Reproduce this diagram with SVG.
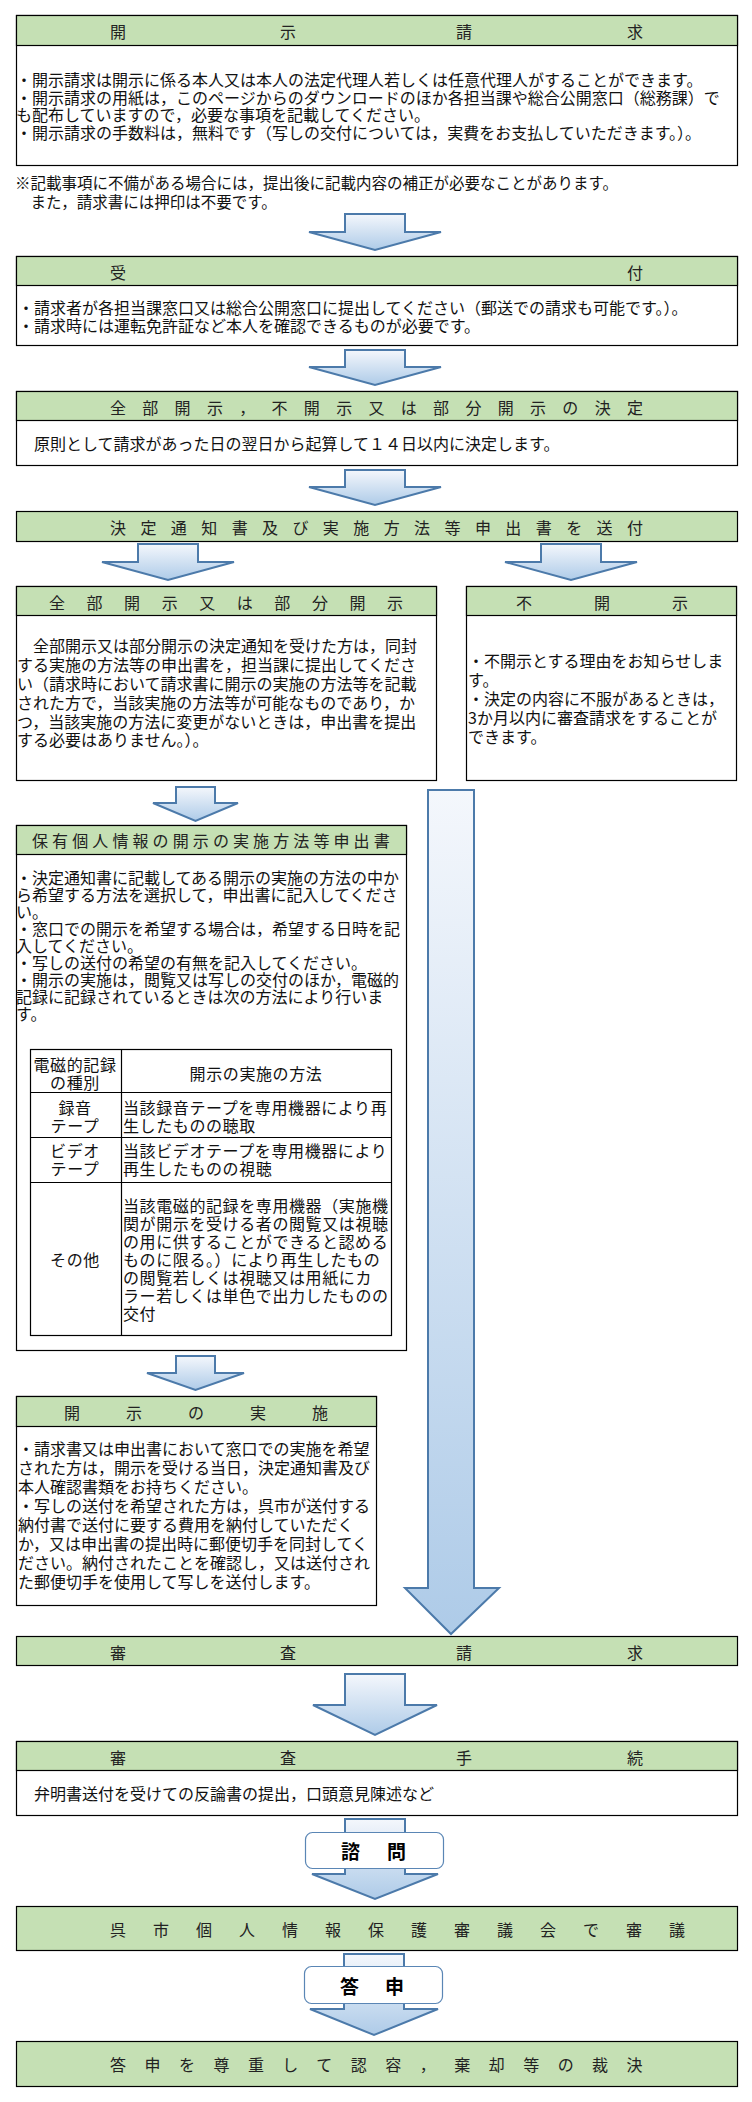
<svg xmlns="http://www.w3.org/2000/svg" width="752" height="2102" viewBox="0 0 752 2102">
<defs>
<linearGradient id="ag" x1="0" y1="0" x2="0" y2="1">
<stop offset="0" stop-color="#f4f7fc"/>
<stop offset="1" stop-color="#aecbe8"/>
</linearGradient>
<style>
text{font-family:"Noto Sans CJK JP","Noto Sans CJK SC",sans-serif;font-size:16px;fill:#111;dominant-baseline:central}
.box{fill:#fff;stroke:#000;stroke-width:1.2}
.hdr{fill:#c5e0b4;stroke:#000;stroke-width:1.2}
.ht{fill:#222}
.arr{fill:url(#ag);stroke:#4c7aaa;stroke-width:2;stroke-linejoin:miter}
.lbl{fill:#fff;stroke:#5a86b5;stroke-width:1.2}
.lt{font-size:19px;font-weight:bold;fill:#000}
.tb{fill:none;stroke:#000;stroke-width:1.2}
.tt{letter-spacing:0.6px}
.fn{font-size:15.5px}
</style>
</defs>

<g id="connectors">
<path class="arr" d="M345 214H405V232H441L375 250L309 232H345Z"/>
<path class="arr" d="M345 350H405V367H441L375 385L309 367H345Z"/>
<path class="arr" d="M345 470H405V487H441L375 505L309 487H345Z"/>
<path class="arr" d="M138 544H198V562H234L168 580L102 562H138Z"/>
<path class="arr" d="M541 544H601V562H637L571 580L505 562H541Z"/>
<path class="arr" d="M176 787H215V803H238L195.5 821L153 803H176Z"/>
<path class="arr" d="M428 790H474V1588H499L451 1634L405 1588H428Z"/>
<path class="arr" d="M176 1356H215V1373H244L195.5 1390L147 1373H176Z"/>
<path class="arr" d="M345 1674H405V1705H437L375 1735L313 1705H345Z"/>
<path class="arr" d="M345 1819H405V1874H438L375 1899L312 1874H345Z"/>
<path class="arr" d="M344 1954H404V2009H438L374 2035L310 2009H344Z"/>
</g>

<g id="n-kaiji-seikyu">
<rect class="box" x="16.5" y="15.5" width="721" height="150"/>
<rect class="hdr" x="16.5" y="15.5" width="721" height="30"/>
<text class="ht" x="110 280 456 627" y="31">開示請求</text>
<text x="16" y="79">・開示請求は開示に係る本人又は本人の法定代理人若しくは任意代理人がすることができます。</text>
<text x="16" y="97">・開示請求の用紙は，このページからのダウンロードのほか各担当課や総合公開窓口（総務課）で</text>
<text x="16" y="114">も配布していますので，必要な事項を記載してください。</text>
<text x="16" y="132">・開示請求の手数料は，無料です（写しの交付については，実費をお支払していただきます。）。</text>
</g>

<g id="n-note">
<text class="fn" x="15" y="182">※記載事項に不備がある場合には，提出後に記載内容の補正が必要なことがあります。</text>
<text class="fn" x="15" y="201">　また，請求書には押印は不要です。</text>
</g>

<g id="n-uketsuke">
<rect class="box" x="16.5" y="256.5" width="721" height="89"/>
<rect class="hdr" x="16.5" y="256.5" width="721" height="29"/>
<text class="ht" x="110 627" y="272">受付</text>
<text x="18" y="307">・請求者が各担当課窓口又は総合公開窓口に提出してください（郵送での請求も可能です。）。</text>
<text x="18" y="325">・請求時には運転免許証など本人を確認できるものが必要です。</text>
</g>

<g id="n-kettei">
<rect class="box" x="16.5" y="391.5" width="721" height="74"/>
<rect class="hdr" x="16.5" y="391.5" width="721" height="29"/>
<text class="ht" x="110" y="407" letter-spacing="16.31">全部開示，不開示又は部分開示の決定</text>
<text x="34" y="443">原則として請求があった日の翌日から起算して１４日以内に決定します。</text>
</g>

<g id="n-soufu">
<rect class="hdr" x="16.5" y="511.5" width="721" height="30"/>
<text class="ht" x="110" y="527" letter-spacing="14.41">決定通知書及び実施方法等申出書を送付</text>
</g>

<g id="n-zenbu">
<rect class="box" x="16.5" y="586.5" width="420" height="194"/>
<rect class="hdr" x="16.5" y="586.5" width="420" height="29"/>
<text class="ht" x="49" y="602" letter-spacing="21.56">全部開示又は部分開示</text>
<text x="17" y="645">　全部開示又は部分開示の決定通知を受けた方は，同封</text>
<text x="17" y="664">する実施の方法等の申出書を，担当課に提出してくださ</text>
<text x="17" y="683">い（請求時において請求書に開示の実施の方法等を記載</text>
<text x="17" y="702">された方で，当該実施の方法等が可能なものであり，か</text>
<text x="17" y="721">つ，当該実施の方法に変更がないときは，申出書を提出</text>
<text x="17" y="739">する必要はありません。）。</text>
</g>

<g id="n-fukaiji">
<rect class="box" x="466.5" y="586.5" width="270" height="194"/>
<rect class="hdr" x="466.5" y="586.5" width="270" height="29"/>
<text class="ht" x="516 594 672" y="602">不開示</text>
<text x="468" y="660">・不開示とする理由をお知らせしま</text>
<text x="468" y="679">す。</text>
<text x="468" y="698">・決定の内容に不服があるときは，</text>
<text x="468" y="717">3か月以内に審査請求をすることが</text>
<text x="468" y="736">できます。</text>
</g>

<g id="n-moushide">
<rect class="box" x="16.5" y="825.5" width="390" height="525"/>
<rect class="hdr" x="16.5" y="825.5" width="390" height="29"/>
<text class="ht" x="32" y="840" letter-spacing="4.1">保有個人情報の開示の実施方法等申出書</text>
<text x="16" y="877">・決定通知書に記載してある開示の実施の方法の中か</text>
<text x="16" y="894">ら希望する方法を選択して，申出書に記入してくださ</text>
<text x="16" y="911">い。</text>
<text x="16" y="928">・窓口での開示を希望する場合は，希望する日時を記</text>
<text x="16" y="945">入してください。</text>
<text x="16" y="962">・写しの送付の希望の有無を記入してください。</text>
<text x="16" y="979">・開示の実施は，閲覧又は写しの交付のほか，電磁的</text>
<text x="16" y="996">記録に記録されているときは次の方法により行いま</text>
<text x="16" y="1013">す。</text>
<rect class="tb" x="30.5" y="1049.5" width="361" height="286"/>
<path class="tb" d="M121.5 1049.5V1335.5M30.5 1092.5H391.5M30.5 1137.5H391.5M30.5 1182.5H391.5"/>
<g class="tt">
<text x="75" y="1064" text-anchor="middle">電磁的記録</text>
<text x="75" y="1082" text-anchor="middle">の種別</text>
<text x="256" y="1073" text-anchor="middle">開示の実施の方法</text>
<text x="75" y="1107" text-anchor="middle">録音</text>
<text x="75" y="1125" text-anchor="middle">テープ</text>
<text x="123" y="1107">当該録音テープを専用機器により再</text>
<text x="123" y="1125">生したものの聴取</text>
<text x="75" y="1150" text-anchor="middle">ビデオ</text>
<text x="75" y="1168" text-anchor="middle">テープ</text>
<text x="123" y="1150">当該ビデオテープを専用機器により</text>
<text x="123" y="1168">再生したものの視聴</text>
<text x="75" y="1259" text-anchor="middle">その他</text>
<text x="123" y="1205">当該電磁的記録を専用機器（実施機</text>
<text x="123" y="1223">関が開示を受ける者の閲覧又は視聴</text>
<text x="123" y="1241">の用に供することができると認める</text>
<text x="123" y="1259">ものに限る。）により再生したもの</text>
<text x="123" y="1277">の閲覧若しくは視聴又は用紙にカ</text>
<text x="123" y="1295">ラー若しくは単色で出力したものの</text>
<text x="123" y="1313">交付</text>
</g>
</g>

<g id="n-jisshi">
<rect class="box" x="16.5" y="1396.5" width="360" height="209"/>
<rect class="hdr" x="16.5" y="1396.5" width="360" height="30"/>
<text class="ht" x="64" y="1412" letter-spacing="46">開示の実施</text>
<text x="18" y="1448">・請求書又は申出書において窓口での実施を希望</text>
<text x="18" y="1467">された方は，開示を受ける当日，決定通知書及び</text>
<text x="18" y="1486">本人確認書類をお持ちください。</text>
<text x="18" y="1505">・写しの送付を希望された方は，呉市が送付する</text>
<text x="18" y="1524">納付書で送付に要する費用を納付していただく</text>
<text x="18" y="1543">か，又は申出書の提出時に郵便切手を同封してく</text>
<text x="18" y="1562">ださい。納付されたことを確認し，又は送付され</text>
<text x="18" y="1581">た郵便切手を使用して写しを送付します。</text>
</g>

<g id="n-shinsa-seikyu">
<rect class="hdr" x="16.5" y="1636.5" width="721" height="29"/>
<text class="ht" x="110 280 456 627" y="1652">審査請求</text>
</g>

<g id="n-shinsa-tetsuzuki">
<rect class="box" x="16.5" y="1741.5" width="721" height="74"/>
<rect class="hdr" x="16.5" y="1741.5" width="721" height="29"/>
<text class="ht" x="110 280 456 627" y="1757">審査手続</text>
<text x="34" y="1793">弁明書送付を受けての反論書の提出，口頭意見陳述など</text>
</g>

<g id="n-shimon">
<rect class="lbl" x="305.5" y="1832.5" width="138" height="36" rx="7"/>
<text class="lt" x="341 387" y="1850">諮問</text>
</g>

<g id="n-shingikai">
<rect class="hdr" x="16.5" y="1906.5" width="721" height="44"/>
<text class="ht" x="110" y="1929" letter-spacing="27">呉市個人情報保護審議会で審議</text>
</g>

<g id="n-toushin">
<rect class="lbl" x="304.5" y="1966.5" width="138" height="37" rx="7"/>
<text class="lt" x="340 385" y="1985">答申</text>
</g>

<g id="n-saiketsu">
<rect class="hdr" x="16.5" y="2041.5" width="721" height="45"/>
<text class="ht" x="110" y="2064" letter-spacing="18.47">答申を尊重して認容，棄却等の裁決</text>
</g>
</svg>
